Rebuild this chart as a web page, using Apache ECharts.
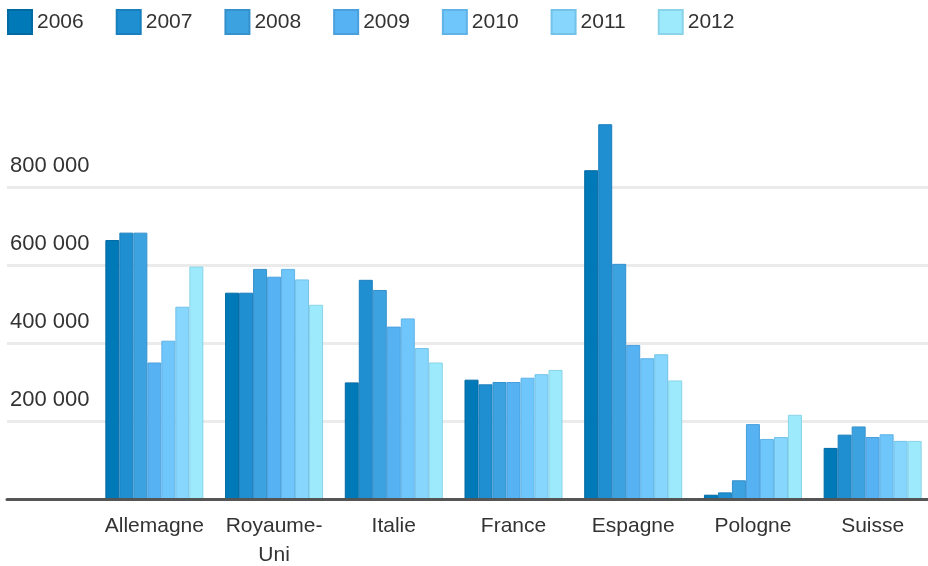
<!DOCTYPE html>
<html>
<head>
<meta charset="utf-8">
<script src="https://cdn.jsdelivr.net/npm/echarts@6/dist/echarts.min.js"></script>
<style>
html,body{margin:0;padding:0;background:#fff;}
#chart{width:928px;height:566px;}
</style>
</head>
<body>
<div id="chart"></div>
<script>
var categories = ['Allemagne', 'Royaume-\nUni', 'Italie', 'France', 'Espagne', 'Pologne', 'Suisse'];
var years = ['2006', '2007', '2008', '2009', '2010', '2011', '2012'];
var v2006 = [664000, 529000, 299000, 306000, 843000, 11000, 131000];
var v2007 = [683000, 529000, 562000, 294000, 961000, 17000, 165000];
var v2008 = [683000, 590000, 536000, 300000, 603000, 48000, 186000];
var v2009 = [350000, 570000, 442000, 300000, 395000, 192000, 159000];
var v2010 = [406000, 590000, 463000, 311000, 361000, 154000, 166000];
var v2011 = [493000, 563000, 387000, 320000, 371000, 159000, 149000];
var v2012 = [596000, 498000, 350000, 331000, 304000, 216000, 149000];
var yTicks = [0, 200000, 400000, 600000, 800000, 1000000];

var values = [v2006, v2007, v2008, v2009, v2010, v2011, v2012];
var colors = ['#0079b8', '#1f8fd1', '#3da2e0', '#56b2f2', '#6fc6fb', '#86d6fd', '#9deafd'];
var borders = ['#006aa3', '#1a7fbd', '#3591cc', '#4aa0dd', '#60b3e6', '#73c3e8', '#8ad3e8'];
var FONT = 'Liberation Sans, Arial, sans-serif';

function fmt(v) {
  return String(v).replace(/\B(?=(\d{3})+(?!\d))/g, ' ');
}

var series = years.map(function (y, i) {
  return {
    name: y,
    type: 'bar',
    xAxisIndex: 1,
    yAxisIndex: 1,
    data: values[i],
    barWidth: 14,
    barGap: '0%',
    itemStyle: { color: colors[i], borderColor: borders[i], borderWidth: 1 },
    emphasis: { disabled: true }
  };
});

var chart = echarts.init(document.getElementById('chart'));
chart.setOption({
  animation: false,
  textStyle: { fontFamily: FONT },
  legend: {
    left: 7,
    top: 9,
    padding: 0,
    itemWidth: 24,
    itemHeight: 24,
    itemGap: 32,
    icon: 'rect',
    textStyle: { fontSize: 21, color: '#333', fontFamily: FONT },
    data: years
  },
  grid: [
    { left: 7, right: 0, top: 109, bottom: 67, outerBoundsMode: 'none', containLabel: false },
    { left: 94.5, width: 838, top: 109, bottom: 67, outerBoundsMode: 'none', containLabel: false }
  ],
  xAxis: [
    {
      gridIndex: 0, type: 'value', min: 0, max: 1, z: 5,
      axisLine: { show: true, lineStyle: { color: '#555', width: 3 } },
      axisTick: { show: false }, axisLabel: { show: false }, splitLine: { show: false }
    },
    {
      gridIndex: 1, type: 'category', data: categories,
      axisLine: { show: false }, axisTick: { show: false },
      axisLabel: { fontSize: 21, color: '#333', margin: 13, lineHeight: 29, interval: 0,
        fontFamily: FONT }
    }
  ],
  yAxis: [
    {
      gridIndex: 0, type: 'value', min: yTicks[0], max: yTicks[yTicks.length - 1], interval: 200000,
      axisLine: { show: false }, axisTick: { show: false },
      splitLine: { show: true, showMinLine: false, showMaxLine: false, lineStyle: { color: '#ebebeb', width: 3 } },
      axisLabel: {
        inside: true, showMinLabel: false, showMaxLabel: false, margin: 3,
        align: 'left', verticalAlign: 'bottom', padding: [0, 0, 10, 0],
        fontSize: 22, color: '#333', fontFamily: FONT,
        formatter: fmt
      }
    },
    {
      gridIndex: 1, type: 'value', min: yTicks[0], max: yTicks[yTicks.length - 1], interval: 200000,
      show: false, splitLine: { show: false }
    }
  ],
  series: series
});
</script>
</body>
</html>
